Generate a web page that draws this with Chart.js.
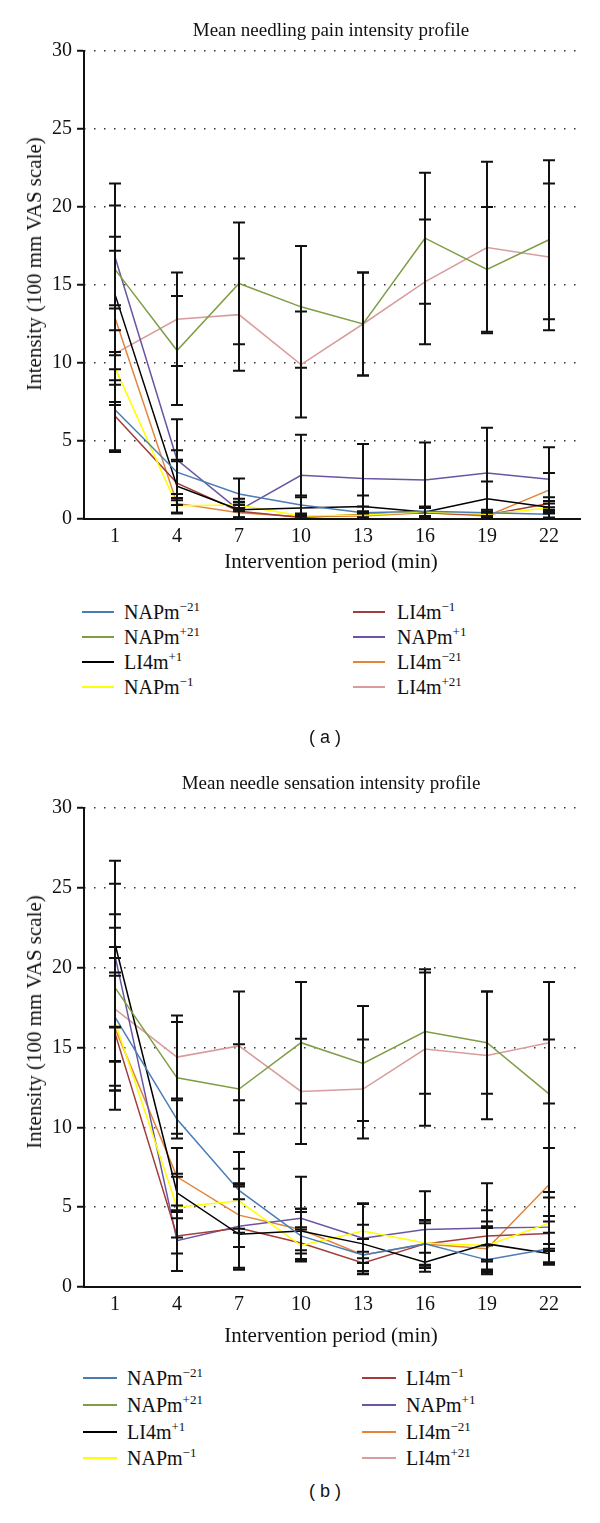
<!DOCTYPE html>
<html><head><meta charset="utf-8">
<script src="https://cdn.jsdelivr.net/npm/chart.js@4.4.1/dist/chart.umd.min.js"></script>
<style>
html,body{margin:0;padding:0;background:#fff;}
#page{position:relative;width:600px;height:1523px;overflow:hidden;font-family:"Liberation Serif","Times New Roman",serif;color:#111;}
canvas{position:absolute;left:0;}
.ctitle{position:absolute;left:0;width:662px;text-align:center;font-size:19px;line-height:24px;white-space:nowrap;}
.xtitle{position:absolute;left:0;width:662px;text-align:center;font-size:21px;line-height:26px;white-space:nowrap;}
.ytitle{position:absolute;font-size:21px;line-height:26px;white-space:nowrap;transform:translate(-50%,-50%) rotate(-90deg);}
.sub{position:absolute;left:0;width:650px;text-align:center;font-family:"Liberation Sans",Arial,sans-serif;font-size:18px;line-height:22px;}
.leg{position:absolute;font-size:20px;line-height:24px;white-space:nowrap;}
.leg .sw{position:absolute;top:11px;height:2px;}
.leg sup{font-size:13px;position:relative;top:-8px;vertical-align:baseline;line-height:0;}
.fontprobe{position:absolute;left:-1000px;top:0;font-family:"Liberation Serif";}
</style>
</head><body><div id="page">
<span class="fontprobe">0123456789</span>
<canvas id="cA" width="600" height="592" style="top:0"></canvas>
<canvas id="cB" width="600" height="620" style="top:740px"></canvas>
<div class="ctitle" style="top:18px">Mean needling pain intensity profile</div>
<div class="ctitle" style="top:771px">Mean needle sensation intensity profile</div>
<div class="xtitle" style="top:548px">Intervention period (min)</div>
<div class="xtitle" style="top:1322px">Intervention period (min)</div>
<div class="ytitle" style="left:34px;top:264px">Intensity (100 mm VAS scale)</div>
<div class="ytitle" style="left:34px;top:1022px">Intensity (100 mm VAS scale)</div>
<div class="sub" style="top:726px">( a )</div>
<div class="sub" style="top:1480px">( b )</div>
<div id="legA"></div>
<div id="legB"></div>
</div>
<script>
// Categories (intervention period, min)
const periods = ['1','4','7','10','13','16','19','22'];
const yTicks = [0, 5, 10, 15, 20, 25, 30];

// Series names (base + superscript)
const seriesBase = ['NAPm','NAPm','LI4m','NAPm','LI4m','NAPm','LI4m','LI4m'];
const seriesSup  = ['\u221221','+21','+1','\u22121','\u22121','+1','\u221221','+21'];
const seriesColors = ['#4a7db5','#7e9e45','#000000','#ffff00','#a33c3c','#6a55a2','#e3843a','#d99c9c'];

// (a) Mean needling pain intensity — means
const painNAPmM21 = [7.0, 3.0, 1.6, 0.9, 0.4, 0.5, 0.4, 0.3];
const painNAPmP21 = [16.0, 10.8, 15.1, 13.6, 12.5, 18.0, 16.0, 17.9];
const painLI4mP1  = [14.4, 2.1, 0.6, 0.7, 0.8, 0.45, 1.3, 0.75];
const painNAPmM1  = [9.7, 0.85, 0.9, 0.2, 0.25, 0.45, 0.3, 0.7];
const painLI4mM1  = [6.6, 2.3, 0.5, 0.1, 0.3, 0.4, 0.25, 1.0];
const painNAPmP1  = [16.8, 3.8, 0.55, 2.8, 2.6, 2.5, 2.95, 2.55];
const painLI4mM21 = [12.9, 1.0, 0.4, 0.15, 0.2, 0.4, 0.2, 1.85];
const painLI4mP21 = [10.6, 12.8, 13.1, 9.9, 12.5, 15.2, 17.4, 16.8];
// (a) error (SD)
const painErrNAPmM21 = [2.6, 1.4, 1.0, 0.6, 0.4, 0.3, 0.2, 0.2];
const painErrNAPmP21 = [5.5, 3.5, 3.9, 3.9, 3.3, 4.2, 4.0, 5.1];
const painErrLI4mP1  = [3.7, 1.7, 0.5, 0.7, 0.7, 0.3, 1.1, 0.4];
const painErrNAPmM1  = [2.4, 0.5, 0.4, 0.15, 0.2, 0.3, 0.2, 0.3];
const painErrLI4mM1  = [2.3, 1.4, 0.4, 0.1, 0.2, 0.3, 0.2, 0.4];
const painErrNAPmP1  = [3.3, 2.6, 0.5, 2.6, 2.2, 2.4, 2.9, 2.05];
const painErrLI4mM21 = [4.3, 0.6, 0.3, 0.15, 0.15, 0.3, 0.2, 1.1];
const painErrLI4mP21 = [3.1, 3.0, 3.6, 3.4, 3.3, 4.0, 5.5, 4.7];

// (b) Mean needle sensation intensity — means
const sensNAPmM21 = [16.9, 10.5, 6.05, 3.2, 2.0, 2.7, 1.7, 2.4];
const sensNAPmP21 = [18.75, 13.1, 12.4, 15.3, 14.0, 16.0, 15.3, 12.1];
const sensLI4mP1  = [21.5, 5.9, 3.3, 3.5, 2.7, 1.55, 2.7, 2.1];
const sensNAPmM1  = [16.6, 5.0, 5.4, 2.6, 3.5, 2.75, 2.6, 4.0];
const sensLI4mM1  = [15.9, 3.2, 3.7, 2.75, 1.5, 2.7, 3.2, 3.35];
const sensNAPmP1  = [20.75, 2.9, 3.8, 4.3, 3.05, 3.6, 3.7, 3.75];
const sensLI4mM21 = [16.2, 6.9, 4.5, 3.6, 2.0, 2.7, 2.4, 6.4];
const sensLI4mP21 = [17.4, 14.4, 15.1, 12.25, 12.4, 14.9, 14.5, 15.3];
// (b) error (SD)
const sensErrNAPmM21 = [2.8, 1.2, 2.4, 1.5, 1.0, 1.3, 0.9, 1.0];
const sensErrNAPmP21 = [4.6, 3.5, 2.8, 3.8, 3.6, 3.9, 3.2, 3.4];
const sensErrLI4mP1  = [5.2, 1.2, 2.2, 1.4, 1.2, 0.6, 1.0, 0.6];
const sensErrNAPmM1  = [4.0, 1.9, 2.0, 1.0, 1.7, 1.4, 1.5, 1.6];
const sensErrLI4mM1  = [3.6, 1.1, 2.6, 1.0, 0.7, 1.5, 1.6, 1.1];
const sensErrNAPmP1  = [4.5, 1.9, 2.6, 2.6, 2.2, 2.4, 2.8, 2.2];
const sensErrLI4mM21 = [5.1, 1.8, 2.0, 1.3, 1.0, 1.5, 1.4, 2.3];
const sensErrLI4mP21 = [5.1, 2.6, 3.4, 3.3, 3.1, 4.8, 4.0, 3.8];

const painMeans = [painNAPmM21, painNAPmP21, painLI4mP1, painNAPmM1, painLI4mM1, painNAPmP1, painLI4mM21, painLI4mP21];
const painErrs  = [painErrNAPmM21, painErrNAPmP21, painErrLI4mP1, painErrNAPmM1, painErrLI4mM1, painErrNAPmP1, painErrLI4mM21, painErrLI4mP21];
const sensMeans = [sensNAPmM21, sensNAPmP21, sensLI4mP1, sensNAPmM1, sensLI4mM1, sensNAPmP1, sensLI4mM21, sensLI4mP21];
const sensErrs  = [sensErrNAPmM21, sensErrNAPmP21, sensErrLI4mP1, sensErrNAPmM1, sensErrLI4mM1, sensErrNAPmP1, sensErrLI4mM21, sensErrLI4mP21];

const FONT = "'Liberation Serif', 'Times New Roman', serif";
Chart.defaults.font.family = FONT;

const errorBars = {
  id: 'errorBars',
  afterDatasetsDraw(chart) {
    const {ctx, scales: {x, y}} = chart;
    ctx.save();
    ctx.strokeStyle = '#111';
    ctx.lineWidth = 2;
    chart.data.datasets.forEach(ds => {
      ds.errors.forEach((e, i) => {
        const v = ds.data[i];
        const px = x.getPixelForValue(i);
        const top = y.getPixelForValue(v + e);
        const bot = y.getPixelForValue(Math.max(0, v - e));
        ctx.beginPath();
        ctx.moveTo(px, top); ctx.lineTo(px, bot);
        ctx.moveTo(px - 6, top); ctx.lineTo(px + 6, top);
        ctx.moveTo(px - 6, bot); ctx.lineTo(px + 6, bot);
        ctx.stroke();
      });
    });
    ctx.restore();
  }
};

function makeChart(id, means, errs, padTop) {
  const datasets = means.map((m, k) => ({
    label: seriesBase[k] + seriesSup[k],
    data: m,
    errors: errs[k],
    borderColor: seriesColors[k],
    backgroundColor: seriesColors[k],
    borderWidth: 1.5,
    pointRadius: 0,
    tension: 0,
    fill: false
  }));
  return new Chart(document.getElementById(id), {
    type: 'line',
    data: { labels: periods, datasets },
    options: {
      responsive: false,
      animation: false,
      layout: { padding: { top: padTop, right: 20, left: 0, bottom: 0 } },
      plugins: { legend: { display: false }, tooltip: { enabled: false }, title: { display: false } },
      scales: {
        x: {
          offset: true,
          grid: { color: 'rgba(0,0,0,0)', drawTicks: false },
          border: { display: true, color: '#111', width: 2 },
          ticks: { color: '#111', font: { family: FONT, size: 20 }, padding: 6, maxRotation: 0 },
          afterFit: s => { s.height = 73; }
        },
        y: {
          min: 0, max: 30,
          afterBuildTicks: s => { s.ticks = yTicks.map(v => ({ value: v })); },
          ticks: { color: '#111', font: { family: FONT, size: 20 }, padding: 5 },
          grid: {
            color: c => (c.tick && c.tick.value === 0) ? 'rgba(0,0,0,0)' : '#333',
            lineWidth: 1.5,
            drawTicks: true, tickLength: 7, tickColor: '#111', tickWidth: 2
          },
          border: { display: true, color: '#111', width: 2, dash: [1.5, 8.5], dashOffset: -9 },
          afterFit: s => { s.width = 84; }
        }
      }
    },
    plugins: [errorBars]
  });
}

function buildLegend(el, rows, col1, col2) {
  const html = [];
  seriesBase.forEach((b, k) => {
    const col = k < 4 ? col1 : col2;
    const r = k % 4;
    html.push('<div class="leg" style="left:' + col.line + 'px;top:' + (rows[r] - 12) + 'px;">' +
      '<span class="sw" style="left:0;width:' + col.w + 'px;background:' + seriesColors[k] + '"></span>' +
      '<span style="position:absolute;left:' + (col.text - col.line) + 'px;top:0">' + b + '<sup>' + seriesSup[k] + '</sup></span></div>');
  });
  el.innerHTML = html.join('');
}
buildLegend(document.getElementById('legA'), [612, 637, 662, 687], {line: 82, w: 32, text: 124}, {line: 353, w: 32, text: 397});
buildLegend(document.getElementById('legB'), [1378, 1405, 1432, 1458], {line: 83, w: 34, text: 127}, {line: 362, w: 34, text: 406});

function drawAll() {
  makeChart('cA', painMeans, painErrs, 51);
  makeChart('cB', sensMeans, sensErrs, 68);
}
const loads = (document.fonts && document.fonts.load) ? document.fonts.load("20px 'Liberation Serif'") : Promise.resolve();
loads.then(drawAll, drawAll);
</script>
</body></html>
